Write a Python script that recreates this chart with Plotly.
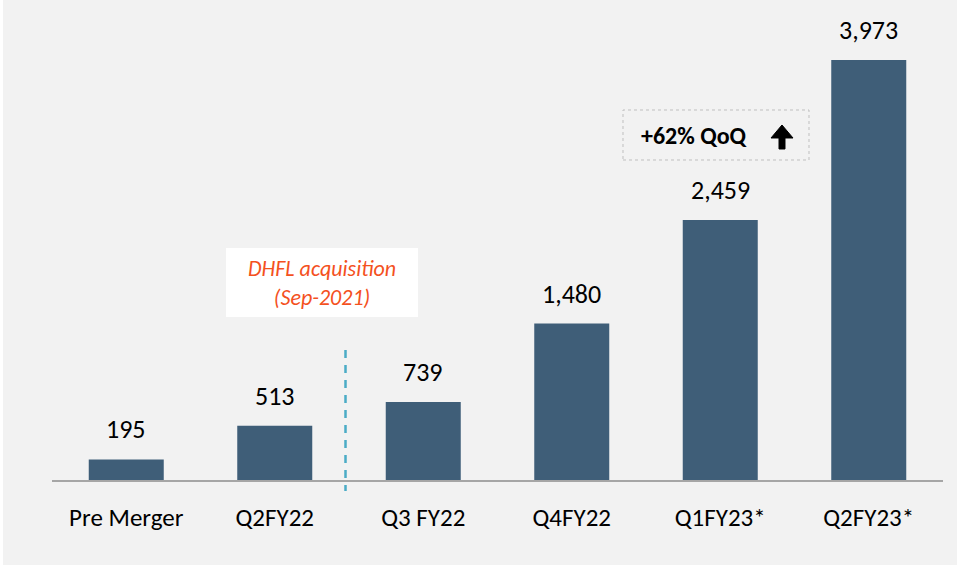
import plotly.graph_objects as go

categories = ["Pre Merger", "Q2FY22", "Q3 FY22", "Q4FY22", "Q1FY23*", "Q2FY23*"]
values = [195, 513, 739, 1480, 2459, 3973]
value_labels = ["195", "513", "739", "1,480", "2,459", "3,973"]

W, H = 957, 567
ML, MR, MT, MB = 52, 14, 20, 87
PW = W - ML - MR
PH = H - MT - MB
YMAX = 4352

FONT = "Carlito, Lato, 'Open Sans', sans-serif"
BAR = "#3f5e78"

def px(x):
    return (x - ML) / PW

def py(y):
    return (H - MB - y) / PH

fig = go.Figure()
fig.add_trace(go.Bar(
    x=categories, y=values, marker_color=BAR, marker_line_width=0,
    hoverinfo="skip",
))

annotations = []
for c, v, t in zip(categories, values, value_labels):
    annotations.append(dict(
        x=c, y=v, xref="x", yref="y", text=t, showarrow=False,
        yanchor="bottom", yshift=12,
        font=dict(family=FONT, size=26, color="#000000"),
    ))

# DHFL acquisition note
annotations.append(dict(
    x=px(322), y=py(283), xref="paper", yref="paper",
    text="<i>DHFL acquisition</i><br><i>(Sep-2021)</i>",
    showarrow=False, xanchor="center", yanchor="middle",
    font=dict(family=FONT, size=22, color="#f4511e"),
    align="center",
))
# +62% QoQ
annotations.append(dict(
    x=px(694), y=py(135), xref="paper", yref="paper",
    text="<b>+62% QoQ</b>", showarrow=False,
    xanchor="center", yanchor="middle",
    font=dict(family=FONT, size=24, color="#000000"),
))

# up-arrow glyph as a path (pixel points converted to paper coords)
ax_c, tip, hb, bot, hw, sw = 782, 125, 138, 149, 11, 3
pts = [(ax_c, tip), (ax_c + hw, hb), (ax_c + sw, hb), (ax_c + sw, bot),
       (ax_c - sw, bot), (ax_c - sw, hb), (ax_c - hw, hb)]
arrow_path = "M " + " L ".join(f"{px(a):.5f},{py(b):.5f}" for a, b in pts) + " Z"

shapes = [
    # white strips at edges
    dict(type="rect", xref="paper", yref="paper",
         x0=px(0), x1=px(3), y0=py(H), y1=py(0),
         fillcolor="#ffffff", line_width=0, layer="below"),
    dict(type="rect", xref="paper", yref="paper",
         x0=px(0), x1=px(W), y0=py(H), y1=py(H - 2),
         fillcolor="#ffffff", line_width=0, layer="below"),
    # DHFL white box
    dict(type="rect", xref="paper", yref="paper",
         x0=px(226), x1=px(418), y0=py(317), y1=py(248),
         fillcolor="#ffffff", line_width=0, layer="below"),
    # QoQ dashed box
    dict(type="rect", xref="paper", yref="paper",
         x0=px(623), x1=px(809), y0=py(160), y1=py(110),
         fillcolor="rgba(0,0,0,0)", line=dict(color="#bfbfbf", width=1, dash="dot")),
    # arrow
    dict(type="path", xref="paper", yref="paper", path=arrow_path,
         fillcolor="#000000", line=dict(color="#000000", width=1)),
    # dashed divider
    dict(type="line", xref="paper", yref="paper",
         x0=px(345.5), x1=px(345.5), y0=py(350), y1=py(491),
         line=dict(color="#4bacc6", width=2.5, dash="8px,7px")),
]

fig.update_layout(
    width=W, height=H,
    margin=dict(l=ML, r=MR, t=MT, b=MB),
    paper_bgcolor="#f2f2f2", plot_bgcolor="#f2f2f2",
    bargap=0.495,
    showlegend=False,
    annotations=annotations,
    shapes=shapes,
    xaxis=dict(
        showgrid=False, zeroline=False, showline=True,
        linecolor="#a6a6a6", linewidth=2, ticks="",
        tickfont=dict(family=FONT, size=25, color="#000000"),
        ticklabelstandoff=14,
        fixedrange=True,
    ),
    yaxis=dict(
        range=[0, YMAX], visible=False, showgrid=False, zeroline=False,
        fixedrange=True,
    ),
)

fig.write_html(
    "out.html",
    config={"displayModeBar": False},
    post_script="document.body.style.margin='0';document.body.style.background='#ffffff';",
)
